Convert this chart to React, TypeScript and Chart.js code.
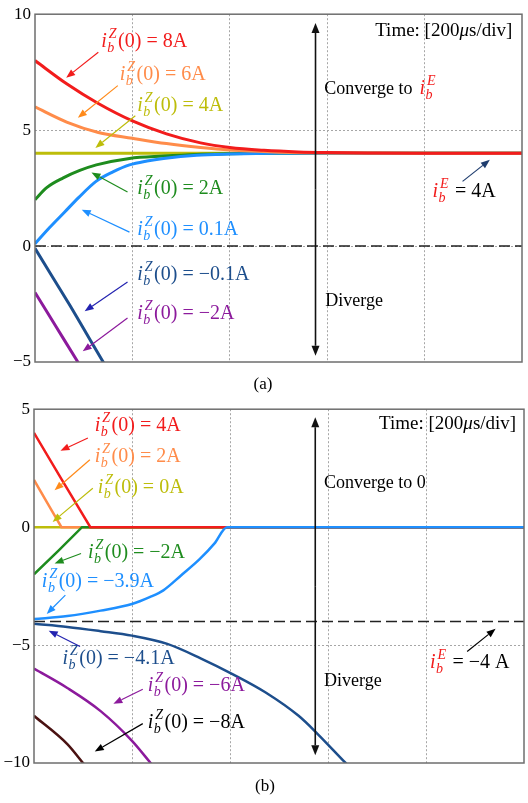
import React, { useEffect, useRef } from 'react';
import { Chart, registerables } from 'chart.js';

Chart.register(...registerables);

const SERIF = '"Liberation Serif", "Times New Roman", serif';

// Time axis in µs, 200 µs per division, 5 divisions
const TIME_MIN = 0;
const TIME_MAX = 1000;
const TIME_STEP = 200;

// ---------- (a) equilibrium i_b^E = 4 A ----------
const A_T_P8 = [0, 65, 130, 200, 270, 340, 400, 470, 540, 600, 700, 800, 1000];
const A_V_P8 = [8, 7.0, 6.15, 5.4, 4.84, 4.45, 4.25, 4.13, 4.06, 4.03, 4.01, 4.0, 4.0];
const A_T_P6 = [0, 65, 130, 200, 270, 340, 400, 500, 600, 800, 1000];
const A_V_P6 = [6, 5.35, 4.9, 4.65, 4.42, 4.25, 4.14, 4.05, 4.01, 4.0, 4.0];
const A_T_P4 = [0, 1000];
const A_V_P4 = [4, 4];
const A_T_P2 = [0, 24, 58, 92, 126, 194, 264, 332, 400, 500, 600, 1000];
const A_V_P2 = [2, 2.52, 2.94, 3.26, 3.5, 3.78, 3.88, 3.95, 3.98, 4.0, 4.0, 4.0];
const A_T_P01 = [0, 30, 60, 90, 126, 160, 194, 230, 264, 332, 400, 500, 1000];
const A_V_P01 = [0.1, 0.8, 1.45, 2.1, 2.8, 3.2, 3.5, 3.67, 3.78, 3.92, 3.97, 4.0, 4.0];
const A_T_N01 = [0, 35, 70, 105, 140, 160];
const A_V_N01 = [-0.1, -1.3, -2.5, -3.75, -5.0, -5.7];
const A_T_N2 = [0, 44, 88, 100];
const A_V_N2 = [-2, -3.5, -5.0, -5.4];
const A_T_REF = [0, 1000];
const A_V_REF = [0, 0];

// ---------- (b) equilibrium i_b^E = -4 A ----------
const B_T_P4 = [0, 57, 115, 1000];
const B_V_P4 = [4, 2, 0, 0];
const B_T_P2 = [0, 28, 56, 1000];
const B_V_P2 = [2, 1, 0, 0];
const B_T_Z0 = [0, 1000];
const B_V_Z0 = [0, 0];
const B_T_N2 = [0, 50, 98, 1000];
const B_V_N2 = [-2, -1, 0, 0];
const B_T_N39 = [0, 68, 136, 200, 236, 264, 300, 338, 368, 394, 1000];
const B_V_N39 = [-3.9, -3.77, -3.54, -3.26, -2.97, -2.68, -2.05, -1.36, -0.7, 0, 0];
const B_T_N41 = [0, 68, 136, 200, 272, 340, 408, 472, 540, 578, 636, 660];
const B_V_N41 = [-4.1, -4.23, -4.41, -4.6, -4.95, -5.56, -6.26, -7.0, -8.0, -8.75, -10, -10.5];
const B_T_N6 = [0, 68, 136, 200, 238, 250];
const B_V_N6 = [-6, -6.82, -7.8, -9.06, -10, -10.3];
const B_T_N8 = [0, 68, 100, 110];
const B_V_N8 = [-8, -9.2, -10, -10.25];
const B_T_REF = [0, 1000];
const B_V_REF = [-4, -4];

const C = {
  red: '#f21c1c',
  orange: '#ff8c4a',
  orangeArrow: '#ff8a1a',
  olive: '#bdbd0a',
  green: '#1e8c1e',
  blue: '#1e8fff',
  navy: '#1d4e8c',
  navyArrow: '#2323b0',
  purple: '#8c1a9c',
  brown: '#4a1212',
  black: '#000000',
};

type Pt = [number, number];
interface EqLabel {
  at: Pt;
  sup: string;
  rest: string;
  color: string;
  restColor?: string;
  from?: Pt;
  to?: Pt;
  arrowColor?: string;
}
interface PanelDecor {
  labels: EqLabel[];
  converge: { at: Pt; text: string; symbol?: boolean };
  diverge: Pt;
  timeAt: Pt;
  vArrow: { x: number; y1: number; y2: number };
  caption: string;
  captionAt: Pt; // canvas pixels
}

const zip = (t: number[], v: number[]) => t.map((x, i) => ({ x, y: v[i] }));

function series(t: number[], v: number[], color: string, width: number, curved: boolean, dash?: number[]) {
  return {
    data: zip(t, v),
    borderColor: color,
    backgroundColor: color,
    borderWidth: width,
    pointRadius: 0,
    fill: false,
    clip: 0,
    borderDash: dash || [],
    cubicInterpolationMode: curved ? 'monotone' : 'default',
    tension: 0,
  };
}

function drawSymbol(ctx: CanvasRenderingContext2D, x: number, y: number, sup: string, color: string): number {
  ctx.fillStyle = color;
  ctx.font = `italic 20px ${SERIF}`;
  ctx.fillText('i', x, y);
  const wi = ctx.measureText('i').width;
  ctx.font = `italic 14px ${SERIF}`;
  ctx.fillText('b', x + wi + 0.5, y + 5);
  ctx.fillText(sup, x + wi + 2, y - 9);
  const ws = Math.max(ctx.measureText('b').width + 0.5, ctx.measureText(sup).width + 2);
  return wi + ws + 1.5;
}

function drawArrow(ctx: CanvasRenderingContext2D, x1: number, y1: number, x2: number, y2: number, color: string, lw = 1.2, head = 9, half = 3.5) {
  const ang = Math.atan2(y2 - y1, x2 - x1);
  const bx = x2 - head * Math.cos(ang);
  const by = y2 - head * Math.sin(ang);
  ctx.save();
  ctx.strokeStyle = color;
  ctx.fillStyle = color;
  ctx.lineWidth = lw;
  ctx.beginPath();
  ctx.moveTo(x1, y1);
  ctx.lineTo(bx, by);
  ctx.stroke();
  ctx.beginPath();
  ctx.moveTo(x2, y2);
  ctx.lineTo(bx + half * Math.sin(ang), by - half * Math.cos(ang));
  ctx.lineTo(bx - half * Math.sin(ang), by + half * Math.cos(ang));
  ctx.closePath();
  ctx.fill();
  ctx.restore();
}

function decorPlugin(decor: PanelDecor) {
  return {
    id: 'panelDecor',
    afterDatasetsDraw(chart: any) {
      const ctx: CanvasRenderingContext2D = chart.ctx;
      const xs = chart.scales.x;
      const ys = chart.scales.y;
      const px = (p: Pt): Pt => [xs.getPixelForValue(p[0]), ys.getPixelForValue(p[1])];
      const area = chart.chartArea;
      ctx.save();
      // frame
      ctx.strokeStyle = '#6e6e6e';
      ctx.lineWidth = 1.5;
      ctx.strokeRect(area.left, area.top, area.right - area.left, area.bottom - area.top);

      ctx.textBaseline = 'alphabetic';
      ctx.textAlign = 'left';

      // double-headed vertical arrow
      const vx = xs.getPixelForValue(decor.vArrow.x);
      const vy1 = ys.getPixelForValue(decor.vArrow.y1);
      const vy2 = ys.getPixelForValue(decor.vArrow.y2);
      drawArrow(ctx, vx, (vy1 + vy2) / 2, vx, vy1, '#111', 1.6, 10, 4);
      drawArrow(ctx, vx, (vy1 + vy2) / 2, vx, vy2, '#111', 1.6, 10, 4);

      // equation labels with pointer arrows
      for (const l of decor.labels) {
        const [lx, ly] = px(l.at);
        const w = drawSymbol(ctx, lx, ly, l.sup, l.color);
        ctx.font = `20px ${SERIF}`;
        ctx.fillStyle = l.restColor || l.color;
        ctx.fillText(l.rest, lx + w, ly);
        if (l.from && l.to) {
          const [x1, y1] = px(l.from);
          const [x2, y2] = px(l.to);
          drawArrow(ctx, x1, y1, x2, y2, l.arrowColor || l.color);
        }
      }

      // convergence / divergence notes
      ctx.font = `18px ${SERIF}`;
      ctx.fillStyle = '#000';
      const [cx, cy] = px(decor.converge.at);
      ctx.fillText(decor.converge.text, cx, cy);
      if (decor.converge.symbol) {
        const cw = ctx.measureText(decor.converge.text).width;
        drawSymbol(ctx, cx + cw + 7, cy, 'E', C.red);
      }
      ctx.font = `18px ${SERIF}`;
      ctx.fillStyle = '#000';
      const [dx, dy] = px(decor.diverge);
      ctx.fillText('Diverge', dx, dy);

      // time base note
      const [tx, ty] = px(decor.timeAt);
      ctx.textAlign = 'right';
      ctx.font = `19px ${SERIF}`;
      const tail = 's/div]';
      const wTail = ctx.measureText(tail).width;
      ctx.fillText(tail, tx, ty);
      ctx.font = `italic 19px ${SERIF}`;
      const wMu = ctx.measureText('\u03bc').width;
      ctx.fillText('\u03bc', tx - wTail, ty);
      ctx.font = `19px ${SERIF}`;
      ctx.fillText('Time: [200', tx - wTail - wMu, ty);

      // caption
      ctx.textAlign = 'center';
      ctx.font = `17px ${SERIF}`;
      ctx.fillStyle = '#000';
      ctx.fillText(decor.caption, decor.captionAt[0], decor.captionAt[1]);
      ctx.restore();
    },
  };
}

function makeOptions(yMin: number, yMax: number, yWidth: number, padding: any) {
  return {
    responsive: false,
    animation: false,
    devicePixelRatio: 1,
    layout: { padding },
    plugins: { legend: { display: false }, tooltip: { enabled: false }, title: { display: false } },
    scales: {
      x: {
        type: 'linear',
        min: TIME_MIN,
        max: TIME_MAX,
        ticks: { display: false, stepSize: TIME_STEP },
        grid: {
          drawTicks: false,
          lineWidth: 1,
          color: (c: any) => (c.tick && c.tick.value > TIME_MIN && c.tick.value < TIME_MAX ? '#a6a6a6' : 'rgba(0,0,0,0)'),
        },
        border: { display: false, dash: [2, 2] },
        afterFit: (s: any) => {
          s.height = 0;
        },
      },
      y: {
        type: 'linear',
        min: yMin,
        max: yMax,
        ticks: {
          stepSize: 5,
          padding: 4,
          color: '#000',
          font: { family: SERIF, size: 17 },
          callback: (v: number) => String(v).replace('-', '\u2212'),
        },
        grid: {
          drawTicks: false,
          lineWidth: 1,
          color: (c: any) => (c.tick && c.tick.value > yMin && c.tick.value < yMax ? '#a6a6a6' : 'rgba(0,0,0,0)'),
        },
        border: { display: false, dash: [2, 2] },
        afterFit: (s: any) => {
          s.width = yWidth;
        },
      },
    },
  };
}

const decorA: PanelDecor = {
  labels: [
    { at: [136, 8.57], sup: 'Z', rest: '(0) = 8A', color: C.red, from: [130, 8.36], to: [64, 7.26] },
    { at: [174, 7.18], sup: 'Z', rest: '(0) = 6A', color: C.orange, from: [170, 6.92], to: [88, 5.53], arrowColor: C.orangeArrow },
    { at: [210, 5.83], sup: 'Z', rest: '(0) = 4A', color: C.olive, from: [206, 5.62], to: [124, 4.23] },
    { at: [210, 2.25], sup: 'Z', rest: '(0) = 2A', color: C.green, from: [190, 2.33], to: [116, 3.17] },
    { at: [210, 0.48], sup: 'Z', rest: '(0) = 0.1A', color: C.blue, from: [194, 0.6], to: [96, 1.57] },
    { at: [210, -1.46], sup: 'Z', rest: '(0) = \u22120.1A', color: C.navy, from: [190, -1.55], to: [102, -2.81], arrowColor: C.navyArrow },
    { at: [210, -3.15], sup: 'Z', rest: '(0) = \u22122A', color: C.purple, from: [190, -3.1], to: [98, -4.54] },
    { at: [816, 2.12], sup: 'E', rest: ' = 4A', color: C.red, restColor: '#000', from: [878, 2.79], to: [934, 3.72], arrowColor: '#1f3d6e' },
  ],
  converge: { at: [594, 6.54], text: 'Converge to', symbol: true },
  diverge: [596, -2.6],
  timeAt: [980, 9.07],
  vArrow: { x: 576, y1: 9.62, y2: -4.73 },
  caption: '(a)',
  captionAt: [263, 389],
};

const decorB: PanelDecor = {
  labels: [
    { at: [124, 4.08], sup: 'Z', rest: '(0) = 4A', color: C.red, from: [110, 3.78], to: [54, 3.24] },
    { at: [124, 2.78], sup: 'Z', rest: '(0) = 2A', color: C.orange, from: [114, 2.86], to: [42, 1.56], arrowColor: C.orangeArrow },
    { at: [130, 1.44], sup: 'Z', rest: '(0) = 0A', color: C.olive, from: [120, 1.65], to: [38, 0.22] },
    { at: [110, -1.29], sup: 'Z', rest: '(0) = \u22122A', color: C.green, from: [96, -1.12], to: [42, -1.54] },
    { at: [16, -2.55], sup: 'Z', rest: '(0) = \u22123.9A', color: C.blue, from: [64, -2.88], to: [26, -3.68] },
    { at: [58, -5.82], sup: 'Z', rest: '(0) = \u22124.1A', color: C.navy, from: [94, -5.06], to: [30, -4.39], arrowColor: C.navyArrow },
    { at: [232, -6.95], sup: 'Z', rest: '(0) = \u22126A', color: C.purple, from: [222, -6.87], to: [162, -7.49] },
    { at: [232, -8.5], sup: 'Z', rest: '(0) = \u22128A', color: C.black, from: [222, -8.33], to: [124, -9.51] },
    { at: [808, -5.99], sup: 'E', rest: ' = \u22124 A', color: C.red, restColor: '#000', from: [884, -5.27], to: [942, -4.31], arrowColor: '#000' },
  ],
  converge: { at: [592, 1.65], text: 'Converge to 0' },
  diverge: [592, -6.74],
  timeAt: [984, 4.16],
  vArrow: { x: 574, y1: 4.66, y2: -9.67 },
  caption: '(b)',
  captionAt: [265, 396],
};

function Panel({ top, height, datasets, yMin, yMax, yWidth, padding, decor }: any) {
  const ref = useRef<HTMLCanvasElement | null>(null);
  useEffect(() => {
    if (!ref.current) return;
    const chart = new Chart(ref.current, {
      type: 'line',
      data: { datasets },
      options: makeOptions(yMin, yMax, yWidth, padding) as any,
      plugins: [decorPlugin(decor)],
    } as any);
    return () => chart.destroy();
  }, []);
  return (
    <canvas
      ref={ref}
      width={528}
      height={height}
      style={{ position: 'absolute', left: 0, top, width: 528, height }}
    />
  );
}

export default function App() {
  const dsA = [
    series(A_T_P8, A_V_P8, C.red, 3, true),
    series(A_T_P6, A_V_P6, C.orange, 3, true),
    series(A_T_P01, A_V_P01, C.blue, 3, true),
    series(A_T_P2, A_V_P2, C.green, 3, true),
    series(A_T_P4, A_V_P4, C.olive, 3, false),
    series(A_T_N01, A_V_N01, C.navy, 3, true),
    series(A_T_N2, A_V_N2, C.purple, 3, true),
    series(A_T_REF, A_V_REF, '#222', 1.6, false, [11, 5]),
  ];
  const dsB = [
    series(B_T_N39, B_V_N39, C.blue, 2.5, true),
    series(B_T_P4, B_V_P4, C.red, 2.5, false),
    series(B_T_N2, B_V_N2, C.green, 2.5, false),
    series(B_T_P2, B_V_P2, C.orange, 2.5, false),
    series(B_T_Z0, B_V_Z0, C.olive, 2.5, false),
    series(B_T_N41, B_V_N41, C.navy, 2.5, true),
    series(B_T_N6, B_V_N6, C.purple, 2.5, true),
    series(B_T_N8, B_V_N8, C.brown, 2.5, true),
    series(B_T_REF, B_V_REF, '#222', 1.6, false, [11, 5]),
  ];
  return (
    <div style={{ position: 'absolute', left: 0, top: 0, width: 528, height: 803, background: '#fff' }}>
      <Panel
        top={0}
        height={395}
        datasets={dsA}
        yMin={-5}
        yMax={10}
        yWidth={35}
        padding={{ left: 0, top: 6, right: 6, bottom: 33 }}
        decor={decorA}
      />
      <Panel
        top={395}
        height={408}
        datasets={dsB}
        yMin={-10}
        yMax={5}
        yWidth={34}
        padding={{ left: 0, top: 10, right: 4, bottom: 40 }}
        decor={decorB}
      />
    </div>
  );
}
